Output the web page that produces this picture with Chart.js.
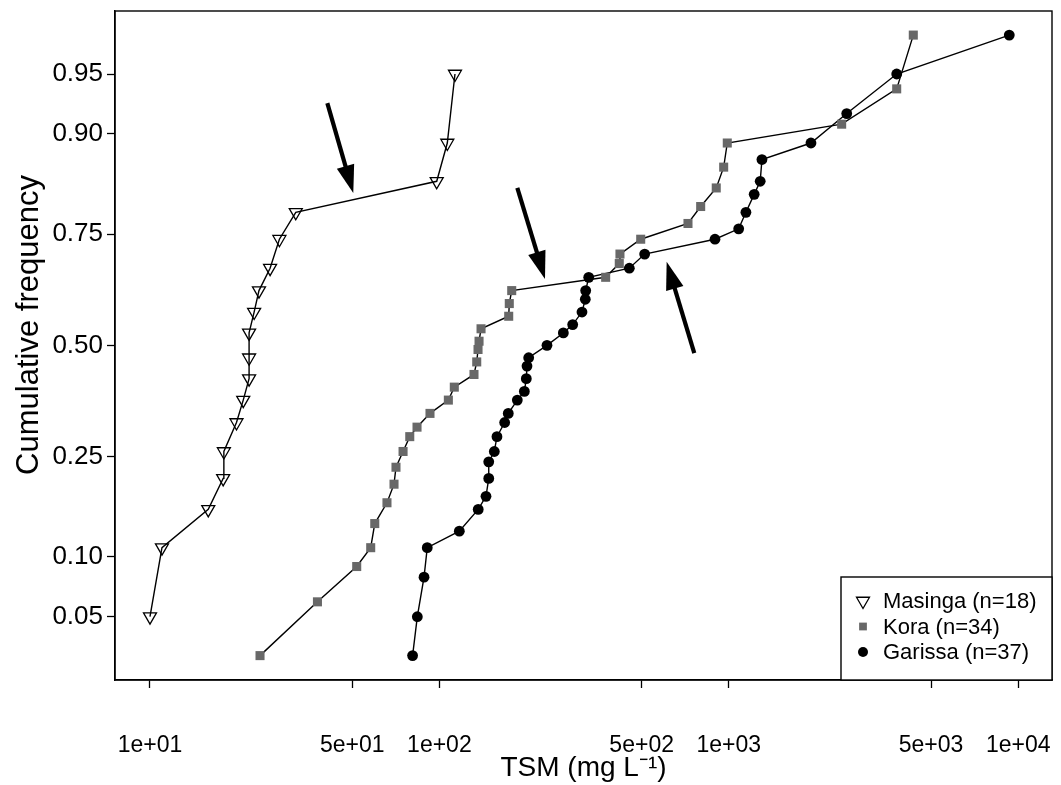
<!DOCTYPE html>
<html>
<head>
<meta charset="utf-8">
<script src="https://cdn.jsdelivr.net/npm/chart.js@4.4.1/dist/chart.umd.min.js"></script>
<style>
  body { margin: 0; background: #fff; }
  canvas { display: block; }
</style>
</head>
<body>
<canvas id="tsmChart" width="1061" height="785"></canvas>
<script>
// TSM (mg/L) and cumulative frequency
const masingaTSM = [10.0, 11.0, 15.9, 17.9, 18.0, 19.9, 21.0, 22.0, 22.0, 22.0, 22.9, 23.8, 26.0, 28.0, 31.9, 97.9, 106.5, 113.2]
const masingaFreq = [0.05, 0.11, 0.16, 0.21, 0.26, 0.32, 0.37, 0.42, 0.47, 0.53, 0.58, 0.63, 0.68, 0.74, 0.79, 0.84, 0.89, 0.95]

const koraTSM = [24.0, 37.9, 51.8, 57.9, 59.8, 65.9, 69.7, 70.8, 74.9, 79.0, 83.7, 92.8, 107.4, 112.6, 131.7, 134.6, 136.0, 137.1,
  139.3, 173.6, 174.4, 177.8, 375.5, 418.4, 420.7, 496.2, 722.8, 799.6, 905.1, 960.2, 988.1, 2455, 3804, 4341]
const koraFreq = [0.03, 0.06, 0.09, 0.11, 0.14, 0.17, 0.20, 0.23, 0.26, 0.29, 0.31, 0.34, 0.37, 0.40, 0.43, 0.46, 0.49, 0.51,
  0.54, 0.57, 0.60, 0.63, 0.66, 0.69, 0.71, 0.74, 0.77, 0.80, 0.83, 0.86, 0.89, 0.91, 0.94, 0.97]

const garissaTSM = [80.8, 83.9, 88.5, 90.8, 117.2, 136.2, 144.9, 148.1, 148.1, 154.8, 158.1, 168.1, 173.0, 185.9, 196.6, 199.7,
  200.8, 203.5, 235.4, 268.1, 288.8, 311.0, 319.3, 320.3, 328.1, 453.2, 512.1, 896.0, 1082, 1146, 1224, 1284, 1302, 1923,
  2556, 3804, 9316]
const garissaFreq = [0.03, 0.05, 0.08, 0.11, 0.13, 0.16, 0.18, 0.21, 0.24, 0.26, 0.29, 0.32, 0.34, 0.37, 0.39, 0.42,
  0.45, 0.47, 0.50, 0.53, 0.55, 0.58, 0.61, 0.63, 0.66, 0.68, 0.71, 0.74, 0.76, 0.79, 0.82, 0.84, 0.87, 0.89,
  0.92, 0.95, 0.97]

const xTickValues = [10, 50, 100, 500, 1000, 5000, 10000]
const yTickFreqs = [0.05, 0.10, 0.25, 0.50, 0.75, 0.90, 0.95]

// the three arrows: [tsm, freq] of tail and tip
const arrows = [
  { from: [41.0, 0.929], to: [50.4, 0.822] },
  { from: [185.9, 0.830], to: [231.7, 0.656] },
  { from: [760, 0.481], to: [610, 0.694] }
]

// inverse normal cdf (Acklam) -> probability axis
function qnorm(p) {
  const a = [-3.969683028665376e+01, 2.209460984245205e+02, -2.759285104469687e+02, 1.383577518672690e+02, -3.066479806614716e+01, 2.506628277459239e+00]
  const b = [-5.447609879822406e+01, 1.615858368580409e+02, -1.556989798598866e+02, 6.680131188771972e+01, -1.328068155288572e+01]
  const c = [-7.784894002430293e-03, -3.223964580411365e-01, -2.400758277161838e+00, -2.549732539343734e+00, 4.374664141464968e+00, 2.938163982698783e+00]
  const d = [7.784695709041462e-03, 3.224671290700398e-01, 2.445134137142996e+00, 3.754408661907416e+00]
  const pl = 0.02425
  let q, r
  if (p < pl) {
    q = Math.sqrt(-2 * Math.log(p))
    return (((((c[0]*q+c[1])*q+c[2])*q+c[3])*q+c[4])*q+c[5]) / ((((d[0]*q+d[1])*q+d[2])*q+d[3])*q+1)
  }
  if (p > 1 - pl) {
    q = Math.sqrt(-2 * Math.log(1 - p))
    return -(((((c[0]*q+c[1])*q+c[2])*q+c[3])*q+c[4])*q+c[5]) / ((((d[0]*q+d[1])*q+d[2])*q+d[3])*q+1)
  }
  q = p - 0.5
  r = q * q
  return (((((a[0]*r+a[1])*r+a[2])*r+a[3])*r+a[4])*r+a[5])*q / (((((b[0]*r+b[1])*r+b[2])*r+b[3])*r+b[4])*r+1)
}

function toPoints(xs, ps) {
  return xs.map((x, i) => ({ x: x, y: qnorm(ps[i]) }))
}

function sciLabel(v) {
  const e = Math.floor(Math.log10(v) + 1e-9)
  const m = Math.round(v / Math.pow(10, e))
  return m + 'e+' + String(e).padStart(2, '0')
}

const yTickZ = yTickFreqs.map(qnorm)
const FONT = "'Liberation Sans', Arial, Helvetica, sans-serif"
Chart.defaults.font.family = FONT
Chart.defaults.color = '#000'

const frameAndArrows = {
  id: 'frameAndArrows',
  afterDatasetsDraw(chart) {
    const { ctx, chartArea: a, scales } = chart
    ctx.save()
    ctx.strokeStyle = '#000'
    ctx.lineWidth = 1.4
    ctx.strokeRect(a.left, a.top, a.right - a.left, a.bottom - a.top)

    arrows.forEach(ar => {
      const x0 = scales.x.getPixelForValue(ar.from[0]), y0 = scales.y.getPixelForValue(qnorm(ar.from[1]))
      const x1 = scales.x.getPixelForValue(ar.to[0]), y1 = scales.y.getPixelForValue(qnorm(ar.to[1]))
      const ang = Math.atan2(y1 - y0, x1 - x0)
      const headLen = 28, headW = 9
      const bx = x1 - Math.cos(ang) * headLen, by = y1 - Math.sin(ang) * headLen
      ctx.fillStyle = '#000'
      ctx.lineWidth = 4.2
      ctx.beginPath()
      ctx.moveTo(x0, y0)
      ctx.lineTo(bx + Math.cos(ang) * 2, by + Math.sin(ang) * 2)
      ctx.stroke()
      ctx.beginPath()
      ctx.moveTo(x1, y1)
      ctx.lineTo(bx - Math.sin(ang) * headW, by + Math.cos(ang) * headW)
      ctx.lineTo(bx + Math.sin(ang) * headW, by - Math.cos(ang) * headW)
      ctx.closePath()
      ctx.fill()
    })

    // legend box in the lower right corner
    const w = 211, h = 103
    const lx = a.right - w, ly = a.bottom - h
    ctx.lineWidth = 1.4
    ctx.strokeStyle = '#000'
    ctx.fillStyle = '#fff'
    ctx.fillRect(lx, ly, w, h)
    ctx.strokeRect(lx, ly, w, h)
    ctx.font = '22px ' + FONT
    ctx.textBaseline = 'middle'
    chart.data.datasets.forEach((ds, i) => {
      const cy = ly + 24 + i * 25.5
      ctx.fillStyle = ds.pointBackgroundColor
      ctx.strokeStyle = ds.pointBorderColor
      ctx.lineWidth = ds.pointBorderWidth
      Chart.helpers.drawPoint(ctx, {
        pointStyle: ds.pointStyle,
        radius: ds.legendRadius,
        rotation: ds.pointRotation,
        borderWidth: ds.pointBorderWidth
      }, lx + 22, cy)
      ctx.fillStyle = '#000'
      ctx.fillText(ds.label, lx + 42, cy + 1)
    })

    // y axis title, placed as in the original (a little above the centre)
    ctx.translate(29, 325)
    ctx.rotate(-Math.PI / 2)
    ctx.font = '31px ' + FONT
    ctx.textAlign = 'center'
    ctx.textBaseline = 'middle'
    ctx.fillText('Cumulative frequency', 0, 0)
    ctx.restore()
  }
}

const ctx = document.getElementById('tsmChart')

const tsmChart = new Chart(ctx, {
  type: 'scatter',
  data: {
    datasets: [
      {
        label: 'Masinga (n=18)',
        data: toPoints(masingaTSM, masingaFreq),
        showLine: true,
        borderColor: '#000',
        borderWidth: 1.4,
        pointStyle: 'triangle',
        pointRotation: 180,
        pointRadius: 7.5,
        legendRadius: 7.5,
        pointBackgroundColor: 'rgba(0,0,0,0)',
        pointBorderColor: '#000',
        pointBorderWidth: 1.3
      },
      {
        label: 'Kora (n=34)',
        data: toPoints(koraTSM, koraFreq),
        showLine: true,
        borderColor: '#000',
        borderWidth: 1.4,
        pointStyle: 'rect',
        pointRadius: 6.4,
        legendRadius: 5.5,
        pointBackgroundColor: '#686868',
        pointBorderColor: '#686868',
        pointBorderWidth: 0
      },
      {
        label: 'Garissa (n=37)',
        data: toPoints(garissaTSM, garissaFreq),
        showLine: true,
        borderColor: '#000',
        borderWidth: 1.4,
        pointStyle: 'circle',
        pointRadius: 5.4,
        legendRadius: 5,
        pointBackgroundColor: '#000',
        pointBorderColor: '#000',
        pointBorderWidth: 0
      }
    ]
  },
  options: {
    responsive: false,
    animation: false,
    layout: { padding: { top: 11, right: 9, left: 0, bottom: 0 } },
    plugins: {
      legend: { display: false },
      tooltip: { enabled: false }
    },
    scales: {
      x: {
        type: 'logarithmic',
        min: 7.57,
        max: 13088,
        afterBuildTicks: (scale) => { scale.ticks = xTickValues.map(v => ({ value: v })) },
        afterFit: (scale) => {
          scale.height = 105
          scale.paddingLeft = 0
          scale.paddingRight = 0
        },
        ticks: {
          callback: (v) => sciLabel(v),
          font: { size: 23 },
          padding: 44,
          maxRotation: 0,
          autoSkip: false
        },
        grid: { display: true, drawOnChartArea: false, drawTicks: true, tickLength: 8, tickColor: '#000', tickWidth: 1.3 },
        border: { display: true, color: '#000', width: 1.4 },
        title: { display: true, text: 'TSM (mg L\u207B\u00B9)', font: { size: 28 }, padding: { top: 0, bottom: 0 } }
      },
      y: {
        type: 'linear',
        min: -2.0286,
        max: 2.0268,
        afterBuildTicks: (scale) => { scale.ticks = yTickZ.map(v => ({ value: v })) },
        afterFit: (scale) => {
          scale.width = 115
          scale.paddingTop = 0
          scale.paddingBottom = 0
        },
        ticks: {
          callback: (v) => {
            const i = yTickZ.findIndex(z => Math.abs(z - v) < 1e-6)
            return i >= 0 ? yTickFreqs[i].toFixed(2) : ''
          },
          font: { size: 26 },
          padding: 4,
          autoSkip: false
        },
        grid: { display: true, drawOnChartArea: false, drawTicks: true, tickLength: 8, tickColor: '#000', tickWidth: 1.3 },
        border: { display: true, color: '#000', width: 1.4 }
      }
    }
  },
  plugins: [frameAndArrows]
})
</script>
</body>
</html>
